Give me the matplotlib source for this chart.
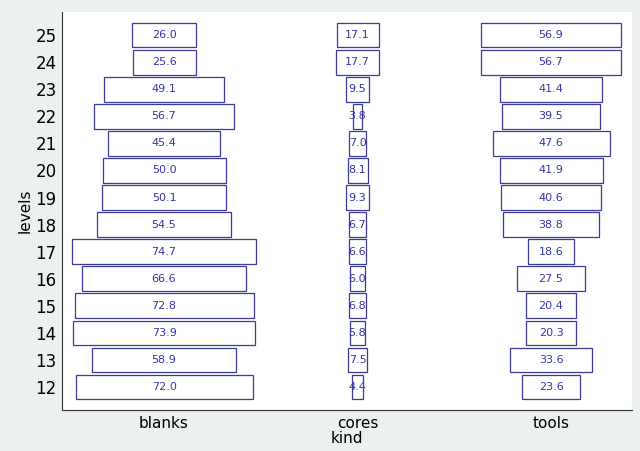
import numpy as np
import matplotlib
matplotlib.use("Agg")
import matplotlib.pyplot as plt
from matplotlib.patches import Rectangle

kinds = ["blanks", "cores", "tools"]
levels = [25, 24, 23, 22, 21, 20, 19, 18, 17, 16, 15, 14, 13, 12]
blanks = [26.0, 25.6, 49.1, 56.7, 45.4, 50.0, 50.1, 54.5, 74.7, 66.6, 72.8, 73.9, 58.9, 72.0]
cores = [17.1, 17.7, 9.5, 3.8, 7.0, 8.1, 9.3, 6.7, 6.6, 6.0, 6.8, 5.8, 7.5, 4.4]
tools = [56.9, 56.7, 41.4, 39.5, 47.6, 41.9, 40.6, 38.8, 18.6, 27.5, 20.4, 20.3, 33.6, 23.6]

fig = plt.figure(figsize=(6.4, 4.51), dpi=100, facecolor="#edf0f0")
ax = fig.add_axes([0.097, 0.091, 0.891, 0.882])

scale = 78.7
h = 0.91
for i, vals in enumerate([blanks, cores, tools]):
    for lev, v in zip(levels, vals):
        w = v / scale
        ax.add_patch(Rectangle((i - w / 2, lev - h / 2), w, h, facecolor="white",
                               edgecolor="#3a3a9a", linewidth=0.9))
        ax.text(i, lev, "%.1f" % v, ha="center", va="center", fontsize=8, color="#3535a8")

ax.set_xlim(-0.527, 2.42)
ax.set_ylim(11.15, 25.85)
ax.set_xticks(range(3))
ax.set_xticklabels(kinds, fontsize=11)
ax.set_yticks(levels)
ax.set_yticklabels([str(l) for l in levels], fontsize=12)
ax.tick_params(length=0, pad=4)
ax.set_xlabel("kind", fontsize=11, labelpad=0)
ax.set_ylabel("levels", fontsize=11, labelpad=2)
for s in ["top", "right"]:
    ax.spines[s].set_visible(False)
ax.spines["left"].set_color("#333333")
ax.spines["bottom"].set_color("#333333")

fig.savefig("out.png", dpi=100, facecolor=fig.get_facecolor())
